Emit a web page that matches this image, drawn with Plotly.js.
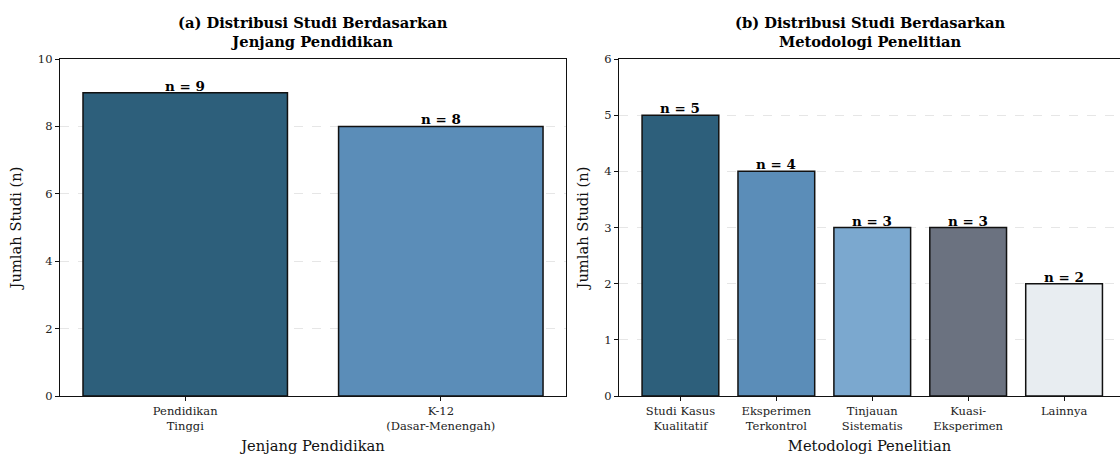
<!DOCTYPE html>
<html>
<head>
<meta charset="utf-8">
<script src="https://cdn.plot.ly/plotly-3.0.1.min.js"></script>
<style>html,body{margin:0;padding:0;background:#fff;}#chart{width:1120px;height:454px;}</style>
</head>
<body>
<div id="chart"></div>
<script>
// Panel (a)
const levelCategories = ["Pendidikan<br>Tinggi", "K-12<br>(Dasar-Menengah)"];
const levelCounts = [9, 8];
const levelColors = ["#2d5f7b", "#5b8db8"];

// Panel (b)
const methodCategories = ["Studi Kasus<br>Kualitatif", "Eksperimen<br>Terkontrol", "Tinjauan<br>Sistematis", "Kuasi-<br>Eksperimen", "Lainnya"];
const methodCounts = [5, 4, 3, 3, 2];
const methodColors = ["#2d5f7b", "#5b8db8", "#7ba8cf", "#6b7280", "#e8edf1"];

const titleA = "(a) Distribusi Studi Berdasarkan<br>Jenjang Pendidikan";
const titleB = "(b) Distribusi Studi Berdasarkan<br>Metodologi Penelitian";
const xTitleA = "Jenjang Pendidikan";
const xTitleB = "Metodologi Penelitian";
const yTitle = "Jumlah Studi (n)";

const FONT = "DejaVu Serif, serif";

const traces = [
  {
    type: "bar", x: levelCategories, y: levelCounts, width: 0.8,
    marker: {color: levelColors, line: {color: "#111", width: 1.5}},
    xaxis: "x", yaxis: "y", hoverinfo: "none", showlegend: false
  },
  {
    type: "bar", x: methodCategories, y: methodCounts, width: 0.8,
    marker: {color: methodColors, line: {color: "#111", width: 1.5}},
    xaxis: "x2", yaxis: "y2", hoverinfo: "none", showlegend: false
  }
];

const annotations = [];
levelCategories.forEach((c, i) => annotations.push({
  x: c, y: levelCounts[i], xref: "x", yref: "y", text: "<b>n = " + levelCounts[i] + "</b>",
  showarrow: false, yanchor: "bottom", xanchor: "center", yshift: -3, font: {family: FONT, size: 13.5, color: "#000"}
}));
methodCategories.forEach((c, i) => annotations.push({
  x: c, y: methodCounts[i], xref: "x2", yref: "y2", text: "<b>n = " + methodCounts[i] + "</b>",
  showarrow: false, yanchor: "bottom", xanchor: "center", yshift: -3, font: {family: FONT, size: 13.5, color: "#000"}
}));
annotations.push({
  x: 0.2387, y: 1, xref: "paper", yref: "paper", yanchor: "bottom", xanchor: "center", align: "center", yshift: 7,
  text: "<b>" + titleA + "</b>", showarrow: false, font: {family: FONT, size: 14.7, color: "#000"}
});
annotations.push({
  x: 0.7637, y: 1, xref: "paper", yref: "paper", yanchor: "bottom", xanchor: "center", align: "center", yshift: 7,
  text: "<b>" + titleB + "</b>", showarrow: false, font: {family: FONT, size: 14.7, color: "#000"}
});

const axisCommon = {
  showline: true, linecolor: "#111", linewidth: 1.2, mirror: true,
  ticks: "outside", ticklen: 4, tickcolor: "#111",
  tickfont: {family: FONT, size: 11.5, color: "#222"}, zeroline: false
};

const layout = {
  width: 1120, height: 454,
  margin: {l: 60, r: 0, t: 59, b: 58},
  paper_bgcolor: "#fff", plot_bgcolor: "#fff",
  font: {family: FONT},
  annotations: annotations,
  xaxis: Object.assign({}, axisCommon, {
    domain: [0, 0.4774], range: [-0.49, 1.49], type: "category", showgrid: false,
    title: {text: xTitleA, font: {family: FONT, size: 14.7, color: "#111"}, standoff: 11}
  }),
  yaxis: Object.assign({}, axisCommon, {
    range: [0, 10], dtick: 2, showgrid: true, gridcolor: "#e6e6e6", griddash: "dash", gridwidth: 1,
    title: {text: yTitle, font: {family: FONT, size: 14.7, color: "#111"}, standoff: 12}
  }),
  xaxis2: Object.assign({}, axisCommon, {
    domain: [0.5274, 1], range: [-0.64, 4.583], type: "category", showgrid: false, anchor: "y2",
    title: {text: xTitleB, font: {family: FONT, size: 14.7, color: "#111"}, standoff: 11}
  }),
  yaxis2: Object.assign({}, axisCommon, {
    range: [0, 6], dtick: 1, showgrid: true, gridcolor: "#e6e6e6", griddash: "dash", gridwidth: 1, anchor: "x2",
    title: {text: yTitle, font: {family: FONT, size: 14.7, color: "#111"}, standoff: 12}
  })
};

Plotly.newPlot("chart", traces, layout, {displayModeBar: false, staticPlot: true});
</script>
</body>
</html>
